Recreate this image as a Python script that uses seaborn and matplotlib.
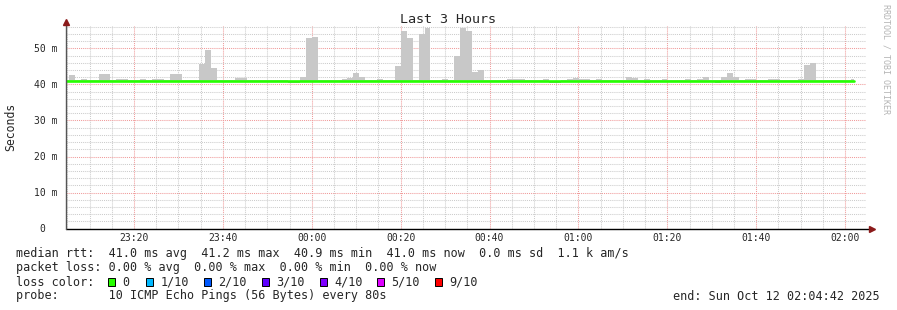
import numpy as np
import pandas as pd
import matplotlib
matplotlib.use("Agg")
import matplotlib.pyplot as plt
import matplotlib.dates as mdates
from matplotlib.patches import Rectangle
import seaborn as sns

# ---------------- data ----------------
title = "Last 3 Hours"
start_time = "2025-10-11 23:04:42"
end_time = "2025-10-12 02:04:42"
step_seconds = 80

median_ms = [
    41.1, 41.1, 41.0, 41.0, 41.1, 41.1, 41.1, 41.1, 41.0, 41.0,
    41.0, 40.9, 40.9, 41.1, 41.1, 41.0, 41.0, 41.1, 41.1, 41.1,
    41.0, 41.0, 41.0, 41.0, 41.1, 41.1, 41.0, 41.0, 41.0, 41.1,
    41.1, 41.1, 41.0, 41.0, 41.0, 41.0, 41.0, 40.9, 40.9, 40.9,
    41.1, 41.1, 41.1, 41.1, 41.1, 41.1, 41.1, 41.0, 41.0, 41.0,
    41.1, 41.1, 41.1, 41.0, 41.0, 41.0, 41.0, 41.1, 41.1, 40.9,
    41.0, 41.0, 41.0, 41.0, 41.1, 41.1, 41.0, 41.1, 41.1, 41.0,
    41.0, 41.0, 41.0, 41.0, 41.1, 41.1, 41.1, 41.0, 41.0, 41.0,
    41.0, 41.0, 40.9, 40.9, 41.0, 41.0, 41.0, 41.0, 41.1, 41.1,
    41.0, 41.0, 41.0, 41.0, 41.1, 41.1, 41.0, 41.0, 41.0, 41.0,
    41.0, 41.0, 41.0, 41.0, 41.1, 41.1, 41.0, 41.0, 41.0, 41.0,
    40.9, 41.0, 41.0, 41.0, 41.0, 41.0, 41.0, 41.0, 41.0, 41.1,
    41.1, 41.0, 41.0, 41.0, 41.1, 41.1, 41.1, 41.0, 41.0, 41.0,
    41.0, 41.0, 41.0, 41.0,
]

smoke_hi_ms = [
    41.2, 42.5, 41.2, 41.4, 41.2, 41.2, 42.8, 43.0, 41.2, 41.6,
    41.6, 41.3, 41.3, 41.5, 41.2, 41.6, 41.6, 41.2, 43.0, 43.0,
    41.2, 41.2, 41.3, 45.8, 49.7, 44.7, 41.3, 41.2, 41.2, 41.8,
    41.8, 41.2, 41.2, 41.2, 41.2, 41.3, 41.2, 41.2, 41.1, 41.1,
    42.2, 52.8, 53.1, 41.2, 41.2, 41.2, 41.2, 41.6, 41.8, 43.1,
    42.2, 41.2, 41.2, 41.5, 41.2, 41.2, 45.0, 54.8, 52.8, 41.3,
    53.9, 55.6, 41.2, 41.3, 41.6, 41.2, 47.8, 55.6, 54.8, 43.6,
    44.1, 41.3, 41.3, 41.2, 41.3, 41.4, 41.4, 41.4, 41.2, 41.2,
    41.3, 41.6, 41.1, 41.1, 41.2, 41.5, 41.8, 41.6, 41.5, 41.3,
    41.6, 41.3, 41.2, 41.2, 41.3, 42.2, 41.8, 41.3, 41.6, 41.2,
    41.3, 41.6, 41.3, 41.2, 41.3, 41.6, 41.3, 41.6, 42.2, 41.3,
    41.3, 42.2, 43.3, 42.2, 41.3, 41.6, 41.6, 41.2, 41.2, 41.5,
    41.5, 41.2, 41.2, 41.3, 41.5, 45.3, 46.1, 41.3, 41.3, 41.3,
    41.2, 41.2, 41.3, 41.6,
]

smoke_lo_ms = [
    40.8, 40.8, 40.8, 40.8, 40.8, 40.8, 40.8, 40.8, 40.8, 40.8,
    40.8, 40.6, 40.6, 40.8, 40.8, 40.8, 40.8, 40.8, 40.8, 40.8,
    40.8, 40.8, 40.8, 40.8, 40.8, 40.8, 40.8, 40.8, 40.8, 40.8,
    40.8, 40.8, 40.8, 40.8, 40.8, 40.8, 40.8, 40.8, 40.4, 40.4,
    40.8, 40.8, 40.8, 40.8, 40.8, 40.8, 40.8, 40.8, 40.8, 40.8,
    40.8, 40.8, 40.8, 40.8, 40.8, 40.8, 40.8, 40.8, 40.8, 40.6,
    40.8, 40.8, 40.8, 40.8, 40.8, 40.8, 40.8, 40.8, 40.8, 40.8,
    40.8, 40.8, 40.8, 40.8, 40.8, 40.8, 40.8, 40.8, 40.8, 40.8,
    40.8, 40.8, 40.5, 40.5, 40.8, 40.8, 40.8, 40.8, 40.8, 40.8,
    40.8, 40.8, 40.8, 40.8, 40.8, 40.8, 40.8, 40.8, 40.5, 40.8,
    40.8, 40.8, 40.8, 40.8, 40.8, 40.8, 40.8, 40.8, 40.8, 40.8,
    40.5, 40.8, 40.8, 40.8, 40.8, 40.8, 40.8, 40.8, 40.8, 40.8,
    40.8, 40.8, 40.8, 40.8, 40.8, 40.8, 40.8, 40.8, 40.8, 40.8,
    40.8, 40.8, 40.8, 40.8,
]

y_ticks = [0, 10, 20, 30, 40, 50]
y_tick_labels = ["0  ", "10 m", "20 m", "30 m", "40 m", "50 m"]

loss_labels = ["0", "1/10", "2/10", "3/10", "4/10", "5/10", "9/10"]
loss_colors = ["#26ff00", "#00b8ff", "#0059ff", "#5e00ff", "#7e00ff", "#dd00ff", "#ff0000"]

line_median = "median rtt:  41.0 ms avg  41.2 ms max  40.9 ms min  41.0 ms now  0.0 ms sd  1.1 k am/s"
line_loss = "packet loss: 0.00 % avg  0.00 % max  0.00 % min  0.00 % now"
line_color = "loss color:"
line_probe = "probe:       10 ICMP Echo Pings (56 Bytes) every 80s"
line_end = "end: Sun Oct 12 02:04:42 2025"
watermark = "RRDTOOL / TOBI OETIKER"

# ---------------- figure ----------------
sns.set_style("white")
MONO = ["DejaVu Sans Mono", "DejaVu Sans"]
plt.rcParams["font.family"] = MONO

W, H = 897, 310
fig = plt.figure(figsize=(W / 100, H / 100), dpi=100)
fig.patch.set_facecolor("white")

def fx(px):
    return px / W

def fy(py):
    return 1 - py / H

x_left, x_right = 66, 866
y_zero = 228.5
px_per_ms = 3.6
y_top_val = 56.3
ax = fig.add_axes([fx(x_left), fy(y_zero), (x_right - x_left) / W,
                   y_top_val * px_per_ms / H])
ax.set_facecolor("white")

t0 = pd.Timestamp(start_time)
t1 = pd.Timestamp(end_time)
times = t0 + pd.to_timedelta(np.arange(len(median_ms)) * step_seconds, unit="s")
df = pd.DataFrame({"time": times, "median": median_ms,
                   "hi": smoke_hi_ms, "lo": smoke_lo_ms})

# smoke
ax.fill_between(df["time"], df["lo"], df["hi"], step="mid",
                color="#c8c8c8", lw=0, zorder=2)
ax.fill_between(df["time"], df["lo"], df["median"], step="mid",
                color="#a8a8a8", lw=0, zorder=2)
# median line
sns.lineplot(data=df, x="time", y="median", ax=ax, color="#26ff00",
             lw=1.9, drawstyle="steps-mid", estimator=None, zorder=3)

ax.set_xlim(t0, t1)
ax.set_ylim(0, y_top_val)

# grid
ax.xaxis.set_major_locator(mdates.MinuteLocator(byminute=[0, 20, 40]))
ax.xaxis.set_minor_locator(mdates.MinuteLocator(byminute=range(0, 60, 5)))
ax.xaxis.set_major_formatter(mdates.DateFormatter("%H:%M"))
ax.set_yticks(y_ticks)
ax.set_yticklabels(y_tick_labels)
ax.set_yticks(np.arange(0, 57, 2), minor=True)

ax.set_axisbelow(True)
ax.grid(which="minor", color="#cccccc", linestyle=(0, (1, 1)), lw=0.75, zorder=0)
ax.grid(which="major", color="#f09a9a", linestyle=(0, (1, 1)), lw=0.75, zorder=0)

ax.tick_params(axis="both", which="major", labelsize=7, length=2.5, width=0.7,
               color="#909090", pad=1)
ax.tick_params(axis="both", which="minor", length=2, width=0.6, color="#b0b0b0")
ax.tick_params(axis="y", which="major", pad=3.5)
for lab in ax.get_xticklabels() + ax.get_yticklabels():
    lab.set_family(MONO)

for s in ax.spines.values():
    s.set_visible(False)
ax.set_xlabel("")
ax.set_ylabel("")

# axis lines with arrows (axes coordinates)
ax.plot([0, 1.0075], [0, 0], transform=ax.transAxes, color="black", lw=1.0,
        clip_on=False, zorder=5)
ax.plot([0, 0], [0, 1.02], transform=ax.transAxes, color="#555555", lw=1.0,
        clip_on=False, zorder=5)
ax.plot([1.0075], [0], transform=ax.transAxes, marker=">", color="#8b1a1a",
        ms=4, clip_on=False, zorder=6)
ax.plot([0], [1.02], transform=ax.transAxes, marker="^", color="#8b1a1a",
        ms=4, clip_on=False, zorder=6)

# titles / labels
fig.text(fx(448), fy(19.5), title, ha="center", va="center", fontsize=9.6, family=MONO)
fig.text(fx(11), fy(127), "Seconds", ha="center", va="center", rotation=90,
         fontsize=8.3, family=MONO)
fig.text(fx(886), fy(4), watermark, ha="center", va="top", rotation=270,
         fontsize=6.0, color="#b4b4b4", family=MONO)

# legend block
fs = 8.5
fig.text(fx(16), fy(254), line_median, ha="left", va="center", fontsize=fs, family=MONO)
fig.text(fx(16), fy(268), line_loss, ha="left", va="center", fontsize=fs, family=MONO)
fig.text(fx(16), fy(282), line_color, ha="left", va="center", fontsize=fs, family=MONO)
fig.text(fx(16), fy(296), line_probe, ha="left", va="center", fontsize=fs, family=MONO)
fig.text(fx(880), fy(296), line_end, ha="right", va="center", fontsize=fs, family=MONO)

box_x = [108, 146, 203.5, 262, 319.5, 377, 435]
for bx, lab, col in zip(box_x, loss_labels, loss_colors):
    fig.add_artist(Rectangle((fx(bx), fy(286)), 7 / W, 8 / H, transform=fig.transFigure,
                             facecolor=col, edgecolor="black", lw=0.7))
    fig.text(fx(bx + 14.5), fy(282), lab, ha="left", va="center", fontsize=fs, family=MONO)

fig.savefig("out.png", dpi=100, facecolor="white")
